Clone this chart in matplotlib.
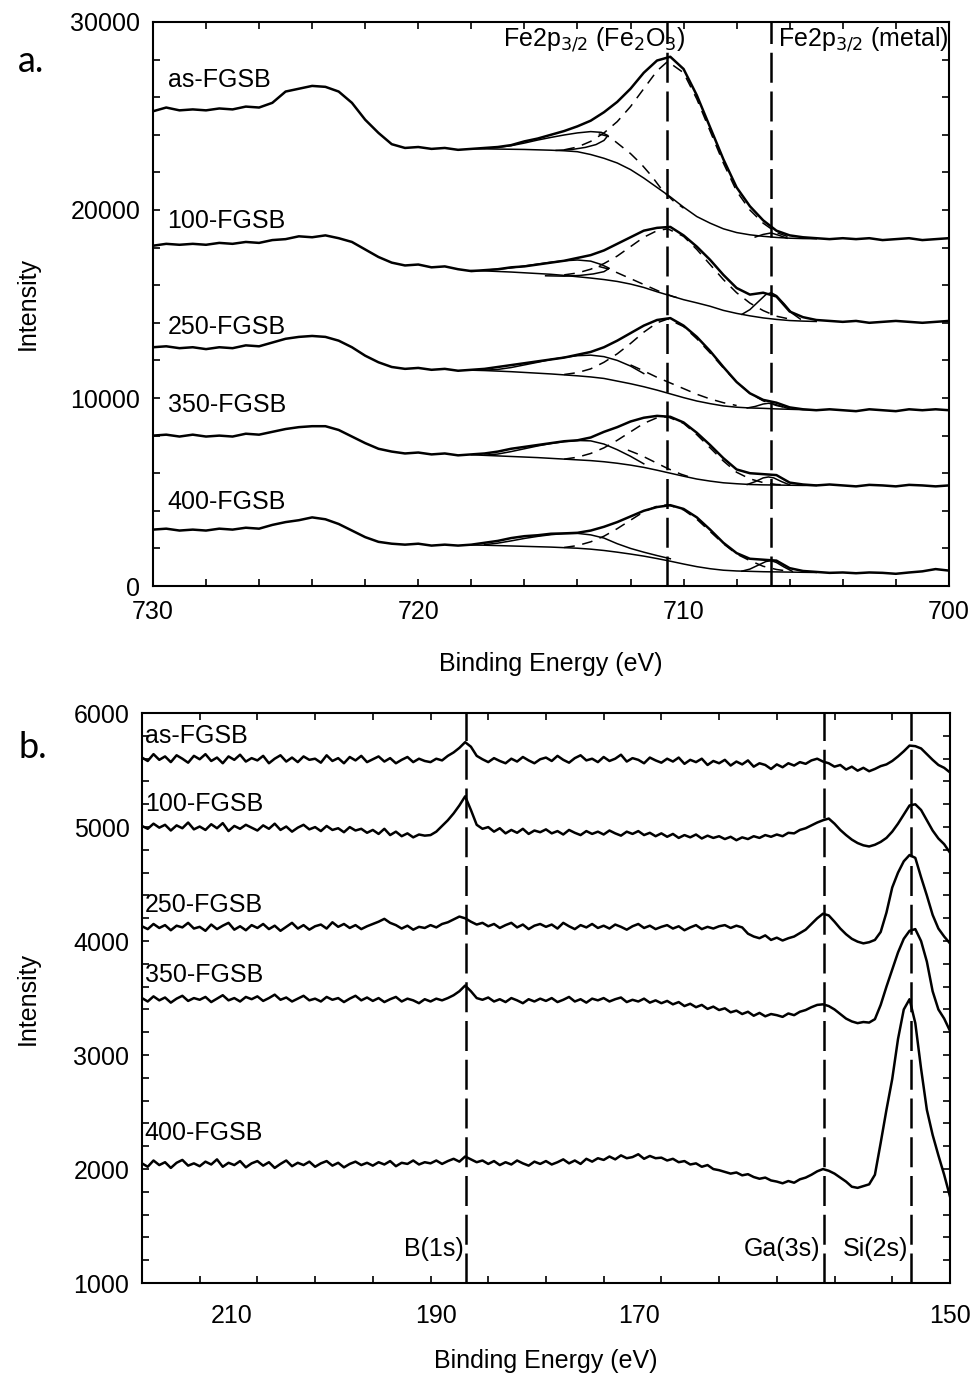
"""
XPS spectra: Fe2p3/2 region (a) and B1s / Ga3s / Si2s region (b)
for the as-cast and annealed FGSB samples.
"""

# ---------- Imports ---------- #
import numpy as np
import matplotlib
matplotlib.use("Agg")
import matplotlib.pyplot as plt
from matplotlib.ticker import MultipleLocator

# ---------- Data: panel a (Fe2p) ---------- #
samples = ["as-FGSB", "100-FGSB", "250-FGSB", "350-FGSB", "400-FGSB"]

# binding energy grid of the measured spectra, 730 -> 700 eV in 0.5 eV steps
fe_energy = np.linspace(730, 700, 61)

fe_as = [25250, 25450, 25300, 25350, 25300, 25400, 25350, 25500, 25450, 25700,
         26300, 26450, 26600, 26550, 26300, 25700, 24800, 24100, 23500, 23300,
         23350, 23250, 23300, 23200, 23250, 23300, 23350, 23450, 23650, 23800,
         24000, 24200, 24450, 24750, 25200, 25750, 26450, 27300, 27950, 28150,
         27500, 26100, 24400, 22700, 21200, 20200, 19450, 18900, 18650, 18550,
         18500, 18450, 18500, 18450, 18500, 18400, 18450, 18500, 18400, 18450, 18500]
fe_100 = [18100, 18200, 18150, 18200, 18150, 18250, 18200, 18300, 18250, 18400,
          18450, 18600, 18550, 18650, 18500, 18300, 17900, 17500, 17200, 17050,
          17100, 16950, 17000, 16850, 16750, 16800, 16850, 16950, 17000, 17100,
          17200, 17300, 17450, 17600, 17850, 18200, 18550, 18900, 19050, 19100,
          18650, 18050, 17350, 16550, 15850, 15500, 15600, 15400, 14600, 14300,
          14150, 14100, 14050, 14100, 14000, 14050, 14100, 14050, 14000, 14050, 14100]
fe_250 = [12700, 12750, 12650, 12700, 12600, 12700, 12650, 12800, 12750, 12950,
          13150, 13250, 13300, 13250, 13050, 12700, 12250, 11900, 11650, 11550,
          11600, 11500, 11550, 11450, 11500, 11550, 11650, 11750, 11850, 11950,
          12050, 12150, 12300, 12450, 12700, 13050, 13450, 13850, 14150, 14250,
          13850, 13250, 12500, 11650, 10850, 10250, 9900, 9750, 9500, 9400,
          9350, 9400, 9350, 9300, 9400, 9350, 9300, 9400, 9350, 9400, 9350]
fe_350 = [8000, 8050, 7950, 8050, 7950, 8000, 7950, 8100, 8050, 8200,
          8350, 8450, 8500, 8500, 8300, 7950, 7600, 7300, 7150, 7050,
          7100, 7000, 7050, 6950, 7000, 7050, 7150, 7300, 7400, 7500,
          7600, 7700, 7750, 7900, 8200, 8450, 8750, 8950, 9050, 9000,
          8700, 8150, 7500, 6800, 6200, 6000, 5950, 5900, 5500, 5400,
          5350, 5400, 5350, 5300, 5380, 5350, 5300, 5380, 5350, 5300, 5350]
fe_400 = [3000, 3050, 2950, 3000, 2950, 3050, 3000, 3100, 3050, 3250,
          3400, 3500, 3650, 3550, 3300, 2950, 2600, 2350, 2250, 2200,
          2250, 2150, 2200, 2150, 2200, 2300, 2400, 2550, 2650, 2700,
          2780, 2800, 2830, 2950, 3150, 3400, 3700, 4000, 4200, 4300,
          4100, 3650, 3000, 2300, 1750, 1450, 1400, 1350, 950, 800,
          750, 700, 720, 680, 720, 700, 650, 720, 780, 900, 820]

# Shirley backgrounds, 718 -> 705 eV in 0.5 eV steps
bg_energy = np.linspace(718, 705, 27)
bg_as = [23250, 23250, 23240, 23230, 23220, 23200, 23180, 23150, 23100, 22950,
         22750, 22500, 22150, 21700, 21200, 20700, 20150, 19650, 19300, 19000,
         18800, 18680, 18600, 18540, 18500, 18480, 18470]
bg_100 = [16780, 16760, 16730, 16700, 16660, 16620, 16580, 16520, 16450, 16380,
          16300, 16200, 16060, 15880, 15650, 15440, 15230, 15060, 14880, 14660,
          14500, 14370, 14260, 14180, 14120, 14090, 14070]
bg_250 = [11480, 11460, 11430, 11400, 11360, 11320, 11280, 11230, 11180, 11120,
          11040, 10900, 10760, 10600, 10420, 10220, 10020, 9840, 9700, 9580,
          9510, 9470, 9450, 9420, 9400, 9380, 9370]
bg_350 = [6980, 6950, 6920, 6890, 6860, 6830, 6790, 6750, 6710, 6670,
          6610, 6530, 6430, 6310, 6160, 6000, 5840, 5690, 5580, 5490,
          5440, 5400, 5380, 5370, 5360, 5350, 5350]
bg_400 = [2180, 2170, 2150, 2130, 2110, 2090, 2070, 2040, 2010, 1960,
          1890, 1800, 1700, 1590, 1460, 1320, 1170, 1030, 920, 840,
          800, 780, 760, 750, 740, 730, 720]

# Fe2O3 main component (dashed, on background)
main_energy = [714.5, 714, 713.5, 713, 712.5, 712, 711.5, 711, 710.6,
               710, 709.5, 709, 708.5, 708, 707.5, 707, 706.5, 706]
main_as = [23200, 23350, 23650, 24100, 24700, 25500, 26450, 27400, 27900,
           27300, 25900, 24200, 22500, 21000, 20000, 19300, 18800, 18550]
main_100 = [16550, 16650, 16850, 17150, 17550, 18050, 18550, 18900, 19000,
            18600, 17900, 17100, 16300, 15600, 15050, 14650, 14350, 14200]
main_250 = [11250, 11350, 11550, 11900, 12350, 12900, 13500, 14000, 14200,
            13800, 13150, 12400, 11600, 10850, 10250, 9850, 9600, 9450]
main_350 = [6750, 6850, 7050, 7350, 7750, 8200, 8650, 8950, 9000,
            8650, 8050, 7350, 6650, 6050, 5700, 5500, 5400, 5370]
main_400 = [2050, 2150, 2350, 2650, 3050, 3500, 3950, 4250, 4320,
            4050, 3550, 2900, 2250, 1700, 1350, 1050, 880, 780]

# second component tail (dashed)
sec_as_e = [713.2, 712.8, 712.4, 712, 711.6, 711.2, 710.8, 710.4, 710]
sec_as = [24050, 23900, 23450, 23000, 22450, 21800, 21050, 20500, 20100]
sec_100_e = [713.2, 712.8, 712.4, 712, 711.6, 711.2, 710.8, 710.4, 710]
sec_100 = [17000, 16850, 16600, 16350, 16100, 15850, 15600, 15400, 15250]
sec_250_e = [712.0, 711.5, 711, 710.5, 710, 709.5, 709, 708.5, 708]
sec_250 = [11760, 11440, 11100, 10800, 10500, 10200, 9950, 9750, 9600]
sec_350_e = [712.1, 711.6, 711.1, 710.6, 710.1, 709.6]
sec_350 = [7230, 6950, 6600, 6250, 5950, 5720]

# shake-up satellite (solid)
sat_as_e = [717.5, 717, 716.5, 716, 715.5, 715, 714.5, 714, 713.5, 713.1,
            712.85, 713.0, 713.3, 713.7, 714.2, 714.8]
sat_as = [23280, 23330, 23420, 23560, 23720, 23860, 23990, 24100, 24170, 24130,
          23960, 23700, 23480, 23330, 23220, 23170]
sat_100_e = [717.5, 717, 716.5, 716, 715.5, 715, 714.5, 714, 713.5, 713.1,
             712.8, 713.0, 713.4, 713.9, 714.5, 715.2]
sat_100 = [16800, 16850, 16920, 17020, 17120, 17220, 17300, 17340, 17280, 17100,
           16900, 16720, 16600, 16520, 16480, 16500]
sat_250_e = [717.5, 717, 716.5, 716, 715.5, 715, 714.5, 714, 713.5, 713,
             712.5, 712, 711.5]
sat_250 = [11480, 11520, 11620, 11760, 11900, 12050, 12160, 12250, 12280, 12200,
           12000, 11700, 11300]
sat_350_e = [717.5, 717, 716.5, 716, 715.5, 715, 714.5, 714, 713.5, 713,
             712.5, 712, 711.5]
sat_350 = [6960, 7020, 7150, 7300, 7450, 7580, 7680, 7740, 7720, 7550,
           7250, 6900, 6500]
sat_400_e = [717.5, 717, 716.5, 716, 715.5, 715, 714.5, 714, 713.5, 713,
             712.5, 712, 711.5, 711, 710.5]
sat_400 = [2200, 2280, 2400, 2530, 2640, 2730, 2790, 2800, 2720, 2550,
           2250, 2000, 1800, 1620, 1450]

# metallic Fe component (solid)
met_as_e = [707.3, 707, 706.7, 706.4, 706.1]
met_as = [18560, 18700, 18780, 18650, 18500]
met_100_e = [707.8, 707.5, 707.2, 706.9, 706.7, 706.5, 706.2, 705.9, 705.6]
met_100 = [14450, 14700, 15100, 15500, 15600, 15450, 15000, 14500, 14200]
met_250_e = [707.6, 707.3, 707, 706.8, 706.6, 706.3, 706]
met_250 = [9470, 9550, 9680, 9720, 9680, 9550, 9420]
met_350_e = [707.6, 707.3, 707, 706.8, 706.6, 706.3, 706]
met_350 = [5400, 5550, 5750, 5800, 5750, 5550, 5380]
met_400_e = [707.8, 707.5, 707.2, 706.9, 706.7, 706.5, 706.2, 705.9]
met_400 = [790, 900, 1100, 1300, 1350, 1250, 1000, 780]

fe_labels_y = [26900, 19400, 13800, 9650, 4450]
fe_lines = [710.63, 706.72]

# ---------- Data: panel b (B1s, Ga3s, Si2s) ---------- #
bs_energy = np.linspace(220, 150, 141)

bs_as = [5610, 5580, 5640, 5590, 5620, 5570, 5630, 5600, 5565, 5625,
         5595, 5640, 5580, 5610, 5560, 5620, 5590, 5635, 5575, 5605,
         5585, 5625, 5560, 5600, 5630, 5575, 5610, 5570, 5620, 5590,
         5600, 5565, 5630, 5580, 5605, 5560, 5615, 5585, 5625, 5570,
         5595, 5620, 5575, 5605, 5560, 5590, 5615, 5570, 5600, 5580,
         5570, 5600, 5585, 5625, 5655, 5695, 5745, 5705, 5625, 5595,
         5570, 5605, 5580, 5560, 5600, 5575, 5615, 5585, 5560, 5595,
         5610, 5580, 5625, 5590, 5565, 5605, 5630, 5585, 5600, 5570,
         5615, 5580, 5600, 5635, 5575, 5605, 5590, 5560, 5610, 5585,
         5565, 5600, 5575, 5610, 5555, 5590, 5570, 5600, 5545, 5580,
         5560, 5590, 5540, 5575, 5550, 5585, 5530, 5560, 5545, 5510,
         5550, 5525, 5560, 5540, 5570, 5555, 5585, 5600, 5575, 5560,
         5530, 5545, 5505, 5530, 5495, 5520, 5490, 5510, 5535, 5550,
         5580, 5620, 5665, 5715, 5710, 5690, 5640, 5590, 5545, 5520,
         5480]
bs_100 = [5010, 4985, 5030, 4995, 5020, 4970, 5015, 4990, 5040, 4980,
          5005, 4975, 5025, 4990, 5035, 4965, 5010, 4985, 5020, 4995,
          4970, 5015, 4985, 5030, 4975, 5005, 4960, 4995, 5020, 4980,
          5000, 4965, 5010, 4975, 4990, 4955, 5000, 4970, 4985, 4950,
          4975, 4940, 4985, 4930, 4960, 4920, 4945, 4910, 4935, 4925,
          4930, 4960, 5010, 5060, 5120, 5190, 5270, 5150, 5020, 4985,
          5000, 4960, 4990, 4945, 4975, 4950, 4985, 4940, 4970, 4955,
          4980, 4945, 4965, 4935, 4975, 4950, 4930, 4965, 4940, 4960,
          4935, 4970, 4945, 4925, 4960, 4940, 4965, 4930, 4950, 4920,
          4945, 4915, 4940, 4905, 4930, 4910, 4935, 4900, 4925, 4905,
          4920, 4895, 4915, 4885, 4910, 4895, 4920, 4905, 4930, 4915,
          4935, 4920, 4950, 4945, 4975, 4990, 5015, 5040, 5060, 5075,
          5030, 4975, 4930, 4890, 4860, 4840, 4830, 4845, 4870, 4905,
          4960, 5030, 5110, 5190, 5200, 5150, 5060, 4970, 4900, 4850,
          4776]
bs_250 = [4130, 4105, 4150, 4115, 4140, 4095, 4135, 4120, 4160, 4110,
          4125, 4090, 4145, 4105, 4135, 4160, 4100, 4130, 4095, 4140,
          4115, 4150, 4105, 4135, 4090, 4125, 4160, 4110, 4140, 4100,
          4130, 4145, 4110, 4165, 4125, 4150, 4115, 4140, 4105, 4130,
          4150, 4170, 4195, 4160, 4140, 4110, 4135, 4100, 4125, 4115,
          4140, 4120, 4150, 4165, 4190, 4215, 4200, 4170, 4145, 4160,
          4130, 4150, 4115, 4140, 4160, 4120, 4145, 4105, 4135, 4150,
          4125, 4145, 4110, 4160, 4130, 4105, 4140, 4120, 4150, 4115,
          4135, 4110, 4145, 4125, 4100, 4130, 4150, 4115, 4135, 4105,
          4125, 4140, 4110, 4130, 4095, 4120, 4140, 4105, 4125, 4110,
          4130, 4140, 4115, 4135, 4120, 4065, 4040, 4025, 4050, 4010,
          4030, 4005, 4025, 4040, 4070, 4100, 4150, 4200, 4240, 4225,
          4170, 4110, 4060, 4020, 3995, 3980, 3990, 4010, 4080, 4250,
          4470, 4600, 4700, 4755, 4730, 4560, 4400, 4230, 4110, 4040,
          3980]
bs_350 = [3500, 3470, 3515, 3480, 3505, 3460, 3495, 3520, 3475, 3500,
          3485, 3510, 3465, 3495, 3525, 3480, 3500, 3470, 3510, 3490,
          3515, 3475, 3500, 3530, 3485, 3505, 3470, 3495, 3520, 3480,
          3495, 3470, 3510, 3485, 3500, 3465, 3495, 3520, 3480, 3505,
          3475, 3500, 3465, 3490, 3510, 3470, 3495, 3480, 3455, 3490,
          3470, 3495, 3480, 3500, 3525, 3560, 3610, 3560, 3500, 3485,
          3505, 3470, 3490, 3465, 3500, 3480, 3455, 3490, 3470, 3495,
          3475, 3500, 3465, 3485, 3510, 3470, 3490, 3460, 3495, 3480,
          3500, 3470, 3490, 3505, 3465, 3485, 3470, 3495, 3460, 3480,
          3455, 3475, 3445, 3465, 3430, 3450, 3420, 3440, 3405, 3425,
          3395, 3410, 3375, 3390, 3360, 3380, 3345, 3370, 3340, 3360,
          3350, 3335, 3365, 3350, 3380, 3395, 3420, 3440, 3445, 3430,
          3400, 3360, 3320, 3295, 3280, 3290, 3285, 3315, 3440, 3600,
          3750, 3900, 4020, 4090, 4105, 4000, 3820, 3560, 3400, 3320,
          3213]
bs_400 = [2050, 2020, 2075, 2035, 2060, 2010, 2055, 2080, 2030, 2050,
          2025, 2065, 2040, 2085, 2020, 2055, 2035, 2070, 2015, 2050,
          2070, 2030, 2060, 2010, 2045, 2075, 2025, 2055, 2035, 2065,
          2020, 2050, 2070, 2030, 2055, 2015, 2045, 2065, 2035, 2055,
          2030, 2060, 2040, 2070, 2025, 2055, 2045, 2075, 2040, 2060,
          2050, 2075, 2045, 2070, 2090, 2065, 2110, 2085, 2060, 2075,
          2045, 2070, 2035, 2060, 2040, 2075, 2050, 2030, 2065, 2045,
          2070, 2040, 2060, 2085, 2050, 2075, 2045, 2090, 2065, 2095,
          2080, 2110, 2085, 2120, 2095, 2105, 2130, 2090, 2115, 2095,
          2100, 2075, 2090, 2060, 2070, 2040, 2050, 2020, 2035, 2000,
          1990, 1975, 1960, 1970, 1945, 1955, 1930, 1915, 1925, 1900,
          1890, 1875, 1895, 1880, 1910, 1925, 1950, 1980, 2000, 1985,
          1960, 1925, 1890, 1845, 1835, 1850, 1866, 1950, 2230, 2520,
          2790, 3140, 3400, 3490, 3280, 2880, 2520, 2300, 2120, 1950,
          1760]

bs_labels_y = [5800, 5200, 4320, 3700, 2320]
bs_lines = [191.9, 160.9, 153.4]
bs_line_names = ["B(1s)", "Ga(3s)", "Si(2s)"]

# tick labels of panel b sit where the original figure printed them
bs_ticklabel_pos = [212.2, 194.5, 176.9, 150]
bs_ticklabels = ["210", "190", "170", "150"]

# ---------- Plot ---------- #
plt.rcParams['font.family'] = ['Liberation Sans', 'DejaVu Sans']
FS = 18

fig = plt.figure(figsize=(9.73, 13.74), dpi=100)
ax1 = fig.add_axes([0.1572, 0.5735, 0.818, 0.4105])
ax2 = fig.add_axes([0.1459, 0.0662, 0.8304, 0.4148])

LW_DATA = 1.8
LW_FIT = 1.1
DASH_FIT = (0, (7, 5))
DASH_REF = (0, (12, 3.5))

# --- panel a --- #
fe_data = [fe_as, fe_100, fe_250, fe_350, fe_400]
fe_bg = [bg_as, bg_100, bg_250, bg_350, bg_400]
fe_main = [main_as, main_100, main_250, main_350, main_400]
fe_sec = [(sec_as_e, sec_as), (sec_100_e, sec_100), (sec_250_e, sec_250), (sec_350_e, sec_350)]
fe_sat = [(sat_as_e, sat_as), (sat_100_e, sat_100), (sat_250_e, sat_250),
          (sat_350_e, sat_350), (sat_400_e, sat_400)]
fe_met = [(met_as_e, met_as), (met_100_e, met_100), (met_250_e, met_250),
          (met_350_e, met_350), (met_400_e, met_400)]

for i in range(len(samples)):
    ax1.plot(fe_energy, fe_data[i], color='black', lw=LW_DATA)
    ax1.plot(bg_energy, fe_bg[i], color='black', lw=LW_FIT)
    ax1.plot(main_energy, fe_main[i], color='black', lw=LW_FIT, linestyle=DASH_FIT)
    ax1.plot(fe_sat[i][0], fe_sat[i][1], color='black', lw=LW_FIT)
    ax1.plot(fe_met[i][0], fe_met[i][1], color='black', lw=LW_FIT)
    ax1.text(729.45, fe_labels_y[i], samples[i], ha='left', va='center', fontsize=FS)
for e, y in fe_sec:
    ax1.plot(e, y, color='black', lw=LW_FIT, linestyle=DASH_FIT)

for x in fe_lines:
    ax1.axvline(x, color='black', lw=1.8, linestyle=DASH_REF)

ax1.text(716.8, 29050, r"Fe2p$_{3/2}$ (Fe$_2$O$_3$)", ha='left', va='center', fontsize=FS)
ax1.text(706.45, 29050, r"Fe2p$_{3/2}$ (metal)", ha='left', va='center', fontsize=FS)

ax1.set_xlim(730, 700)
ax1.set_ylim(0, 30000)
ax1.xaxis.set_major_locator(MultipleLocator(10))
ax1.xaxis.set_minor_locator(MultipleLocator(2))
ax1.yaxis.set_major_locator(MultipleLocator(10000))
ax1.yaxis.set_minor_locator(MultipleLocator(2000))
ax1.set_xlabel("Binding Energy (eV)", fontsize=FS)
ax1.set_ylabel("Intensity", fontsize=FS)
ax1.xaxis.set_label_coords(0.5, -0.117)
ax1.yaxis.set_label_coords(-0.142, 0.5)

# --- panel b --- #
bs_data = [bs_as, bs_100, bs_250, bs_350, bs_400]
for i in range(len(samples)):
    ax2.plot(bs_energy, bs_data[i], color='black', lw=LW_DATA)
    ax2.text(219.75, bs_labels_y[i], samples[i], ha='left', va='center', fontsize=FS)

for x in bs_lines:
    ax2.axvline(x, color='black', lw=1.8, linestyle=DASH_REF)
ax2.text(bs_lines[0] + 0.2, 1300, bs_line_names[0], ha='right', va='center', fontsize=FS)
ax2.text(bs_lines[1] + 0.3, 1300, bs_line_names[1], ha='right', va='center', fontsize=FS)
ax2.text(bs_lines[2] + 0.2, 1300, bs_line_names[2], ha='right', va='center', fontsize=FS)

ax2.set_xlim(220, 150)
ax2.set_ylim(1000, 6000)
ax2.set_xticks(bs_ticklabel_pos, bs_ticklabels)
ax2.xaxis.set_minor_locator(MultipleLocator(5))
ax2.yaxis.set_major_locator(MultipleLocator(1000))
ax2.yaxis.set_minor_locator(MultipleLocator(200))
ax2.set_xlabel("Binding Energy (eV)", fontsize=FS)
ax2.set_ylabel("Intensity", fontsize=FS)
ax2.xaxis.set_label_coords(0.5, -0.116)
ax2.yaxis.set_label_coords(-0.126, 0.5)

for ax in (ax1, ax2):
    ax.tick_params(which='both', direction='in', top=True, right=True,
                   length=5, width=1.2, labelsize=FS)
    ax.tick_params(axis='y', pad=9)
    ax.tick_params(axis='x', pad=10)
    for s in ax.spines.values():
        s.set_linewidth(1.5)
# printed labels of panel b carry no tick mark of their own
ax2.tick_params(axis='x', which='major', length=0, pad=15)

fig.text(0.0185, 0.9476, "a.", fontsize=26, family='Lato')
fig.text(0.0185, 0.4483, "b.", fontsize=26, family='Lato')

plt.savefig("out.png", dpi=100)
